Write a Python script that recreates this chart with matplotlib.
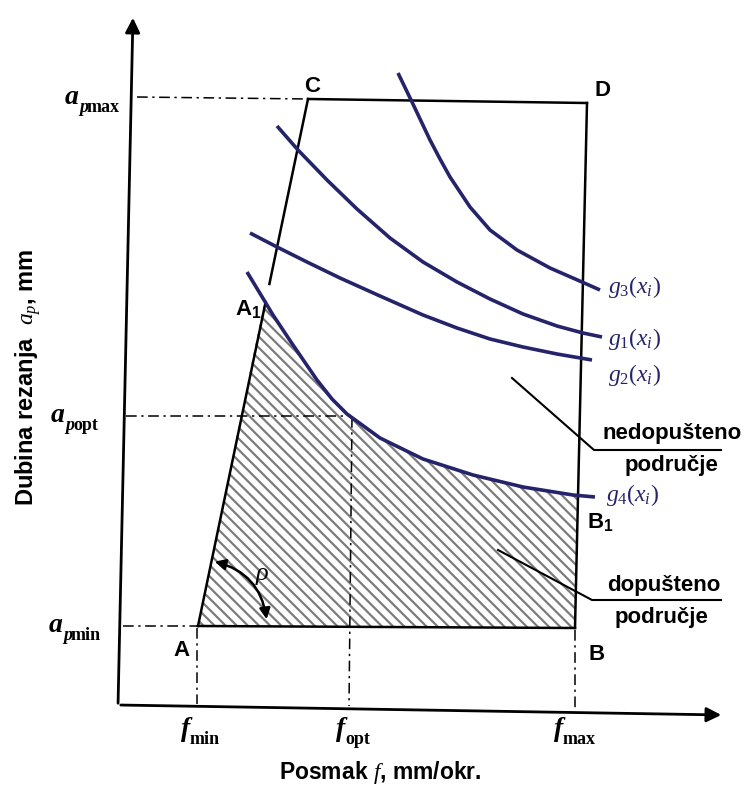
import matplotlib.pyplot as plt
from matplotlib.patches import Polygon, FancyArrowPatch
import numpy as np

plt.rcParams['mathtext.fontset'] = 'custom'
plt.rcParams['mathtext.rm'] = 'Liberation Serif'
plt.rcParams['mathtext.it'] = 'Liberation Serif:italic'
plt.rcParams['mathtext.bf'] = 'Liberation Sans:bold'
plt.rcParams['hatch.linewidth'] = 1.6

NAVY = '#25246a'
HATCH = '#7c7c7c'

# schematic drawn in image pixel coordinates (x right, y down)
corner_A = (198, 626)
corner_B = (575, 628)
corner_C = (308, 99)
corner_D = (587, 103)
point_A1 = (264, 302)

g1_x = [277, 298, 327, 357, 390, 423, 457, 490, 523, 557, 583, 602]
g1_y = [126, 150, 180, 209, 238, 262, 282, 299, 314, 326, 333, 337]

g2_x = [250, 277, 307, 340, 380, 423, 457, 490, 523, 557, 592]
g2_y = [233, 247, 262, 278, 296, 315, 328, 339, 347, 354, 360]

g3_x = [398, 412, 430, 440, 450, 470, 490, 517, 550, 582, 600]
g3_y = [73, 102, 140, 159, 177, 207, 230, 250, 268, 282, 290]

g4_x = [247, 264, 273, 293, 317, 332, 347, 380, 423, 473, 523, 573, 595]
g4_y = [272, 300, 315, 345, 380, 399, 414, 438, 459, 475, 487, 495, 497]

f_ticks = [190, 345, 563]
f_subs = ['min', 'opt', 'max']
a_ticks = [626, 415, 97]
a_split = [63, 65, 79]
a_subs = ['min', 'opt', 'max']

fig = plt.figure(figsize=(7.46, 7.87), dpi=100)
ax = fig.add_axes([0, 0, 1, 1])
ax.set_xlim(0, 746)
ax.set_ylim(787, 0)
ax.axis('off')

# hatched allowed region: A -> A1 -> along g4 -> B1 -> B
x_b1 = 577
b1_y = np.interp(x_b1, g4_x, g4_y)
inner = [(x, y) for x, y in zip(g4_x, g4_y) if point_A1[0] < x < x_b1]
region = [corner_A, point_A1] + inner + [(x_b1, b1_y), corner_B]
ax.add_patch(Polygon(region, closed=True, facecolor='none', edgecolor=HATCH,
                     linewidth=0, hatch='\\\\\\', zorder=1))

# boundary box
lk = dict(color='black', lw=1.8, zorder=3)
ax.plot([corner_A[0], corner_B[0]], [corner_A[1], corner_B[1]], **lk)
ax.plot([corner_B[0], corner_D[0]], [corner_B[1], corner_D[1]], **lk)
ax.plot([corner_C[0], corner_D[0]], [corner_C[1], corner_D[1]], **lk)
# left edge A-C, interrupted between A1 and the g2 crossing
t_lo = (corner_A[1] - point_A1[1]) / (corner_A[1] - corner_C[1])
t_hi = (corner_A[1] - 284) / (corner_A[1] - corner_C[1])
ax.plot([corner_A[0], corner_A[0] + t_lo * (corner_C[0] - corner_A[0])],
        [corner_A[1], point_A1[1]], **lk)
ax.plot([corner_A[0] + t_hi * (corner_C[0] - corner_A[0]), corner_C[0]],
        [284, corner_C[1]], **lk)

# constraint curves
for xs, ys in [(g1_x, g1_y), (g2_x, g2_y), (g3_x, g3_y), (g4_x, g4_y)]:
    ax.plot(xs, ys, color=NAVY, lw=2.6, solid_capstyle='butt',
            solid_joinstyle='round', zorder=4)

# axes with arrows
ax.annotate('', xy=(133, 15), xytext=(118, 706),
            arrowprops=dict(arrowstyle='-|>', color='black', lw=2, mutation_scale=22))
ax.annotate('', xy=(724, 715), xytext=(118, 705),
            arrowprops=dict(arrowstyle='-|>', color='black', lw=2, mutation_scale=22))

# dash-dot guide lines
dk = dict(color='black', lw=1.1, linestyle=(0, (7, 3, 1.5, 3)), zorder=2)
ax.plot([123, corner_A[0]], [626, 626], **dk)
ax.plot([126, 347], [416, 416], **dk)
ax.plot([137, corner_C[0]], [97, 99], **dk)
ax.plot([197, 197], [628, 704], **dk)
ax.plot([352, 349], [417, 706], **dk)
ax.plot([575, 575], [630, 708], **dk)

# tick labels: italic letter with upright subscript
mk = dict(family='Liberation Serif', style='italic', fontweight='bold', fontsize=20)
sk = dict(family='Liberation Serif', fontweight='bold', fontsize=13)
for x, sub in zip(f_ticks, f_subs):
    ax.text(x, 730, 'f', ha='right', va='center', **mk)
    ax.text(x, 739, sub, ha='left', va='center', **sk)
for y, xs, sub in zip(a_ticks, a_split, a_subs):
    ax.text(xs, y, 'a', ha='right', va='center', **mk)
    ax.text(xs, y + 10, 'p', ha='left', va='center', family='Liberation Serif',
            style='italic', fontweight='bold', fontsize=13)
    ax.text(xs + 8, y + 10, sub, ha='left', va='center', **sk)

# axis titles
ax.text(380, 772, r'Posmak $f$, mm/okr.', fontsize=16.5, fontweight='bold',
        family='Liberation Sans', ha='center', va='center')
ax.text(28, 377, r'Dubina rezanja  $a_p$, mm', fontsize=17, fontweight='bold',
        family='Liberation Sans', ha='center', va='center', rotation=90)

# point labels
pk = dict(fontsize=16, fontweight='bold', family='Liberation Sans', ha='center', va='center')
ax.text(312, 86, 'C', **pk)
ax.text(603, 90, 'D', **pk)
ax.text(182, 650, 'A', **pk)
ax.text(597, 654, 'B', **pk)
ax.text(248, 309, r'A$_\mathbf{1}$', **pk)
ax.text(600, 522, r'B$_\mathbf{1}$', **pk)

# curve labels
gk = dict(fontsize=17, color=NAVY, ha='left', va='center')
ax.text(608, 287, r'$g_3(x_i)$', **gk)
ax.text(608, 339, r'$g_1(x_i)$', **gk)
ax.text(608, 375, r'$g_2(x_i)$', **gk)
ax.text(606, 495, r'$g_4(x_i)$', **gk)

# region pointers
ax.plot([512, 594, 721], [378, 450, 450], color='black', lw=1.5, zorder=5)
ax.plot([498, 592, 721], [550, 600, 600], color='black', lw=1.5, zorder=5)
rk = dict(fontsize=16, fontweight='bold', family='Liberation Sans', ha='center', va='center')
ax.text(672, 433, 'nedopušteno', **rk)
ax.text(672, 466, 'područje', **rk)
ax.text(664, 586, 'dopušteno', **rk)
ax.text(662, 617, 'područje', **rk)

# angle rho
ax.add_patch(FancyArrowPatch((212, 561), (267, 622), connectionstyle='arc3,rad=-0.35',
                             arrowstyle='<|-|>', mutation_scale=16, color='black', lw=1.8, zorder=5))
ax.text(262, 574, r'$\rho$', fontsize=19, ha='center', va='center')

fig.savefig('out.png', dpi=100)
